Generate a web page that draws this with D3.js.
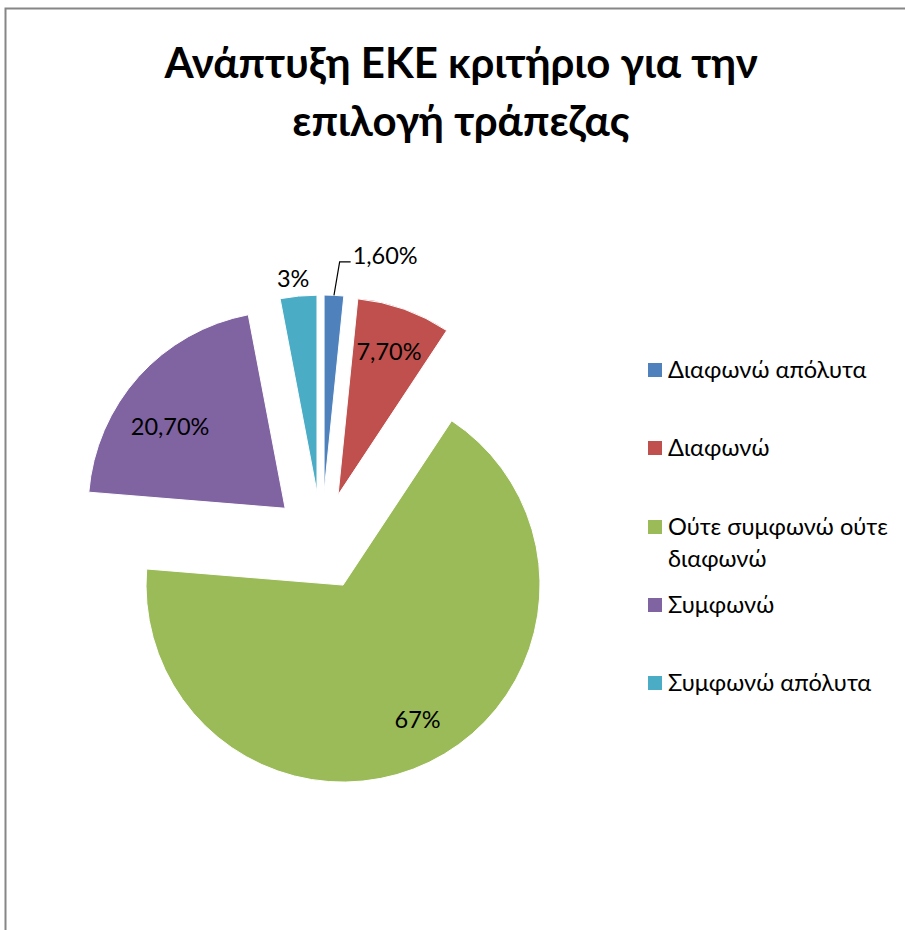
<!DOCTYPE html>
<html>
<head>
<meta charset="utf-8">
<script src="https://cdn.jsdelivr.net/npm/d3@7"></script>
<style>
  html, body { margin: 0; padding: 0; background: #fff; }
  svg { display: block; }
  text { font-family: Lato, "Open Sans", "Noto Sans", sans-serif; }
</style>
</head>
<body>
<svg id="chart" width="905" height="930"></svg>
<script>
// Survey answers and their shares (%)
const categories = ["Διαφωνώ απόλυτα", "Διαφωνώ", "Ούτε συμφωνώ ούτε διαφωνώ", "Συμφωνώ", "Συμφωνώ απόλυτα"];
const values = [1.6, 7.7, 67, 20.7, 3];
const valueLabels = ["1,60%", "7,70%", "67%", "20,70%", "3%"];
const legendLines = [["Διαφωνώ απόλυτα"], ["Διαφωνώ"], ["Ούτε συμφωνώ ούτε", "διαφωνώ"], ["Συμφωνώ"], ["Συμφωνώ απόλυτα"]];
const colors = ["#4F81BD", "#C0504D", "#9BBB59", "#8064A2", "#4BACC6"];
const titleLines = ["Ανάπτυξη ΕΚΕ κριτήριο για την", "επιλογή τράπεζας"];

const svg = d3.select("#chart");

// chart frame
svg.append("rect")
  .attr("x", 5.5).attr("y", 8.5)
  .attr("width", 1000).attr("height", 1000)
  .attr("fill", "#fff").attr("stroke", "#868686").attr("stroke-width", 2);

// title
svg.append("g").selectAll("text").data(titleLines).join("text")
  .attr("x", 461)
  .attr("y", (d, i) => 78 + i * 58)
  .attr("text-anchor", "middle")
  .attr("font-weight", "bold")
  .attr("font-size", 42)
  .attr("fill", "#000")
  .text(d => d);

// pie geometry
const cx = 321.6, cy = 541, radius = 197, explode = 49;
const pie = d3.pie().sort(null).value(d => d.value);
const arcs = pie(categories.map((c, i) => ({ name: c, value: values[i], label: valueLabels[i], color: colors[i] })));
const arc = d3.arc().innerRadius(0).outerRadius(radius);

const mid = d => (d.startAngle + d.endAngle) / 2;
const dir = a => [Math.sin(a), -Math.cos(a)];

const g = svg.append("g").attr("transform", `translate(${cx},${cy})`);

const slices = g.selectAll("g.slice").data(arcs).join("g")
  .attr("class", "slice")
  .attr("transform", d => {
    const [ux, uy] = dir(mid(d));
    return `translate(${ux * explode},${uy * explode})`;
  });

slices.append("path")
  .attr("d", arc)
  .attr("fill", d => d.data.color)
  .attr("stroke", "#fff")
  .attr("stroke-width", 1);

// value label placement: radius (share of slice radius) and position across the slice's angle
const labelRadius = [1.17, 0.77, 0.78, 0.715, 1.09];
const labelAngle = [0.5, 0.5, 0.487, 0.41, 0.41];
slices.each(function(d, i) {
  const sel = d3.select(this);
  const a = d.startAngle + (d.endAngle - d.startAngle) * labelAngle[i];
  const [ux, uy] = dir(a);
  const rr = labelRadius[i] * radius;
  if (i === 0) {
    // leader line for the thin slice
    const p0 = [ux * radius, uy * radius];
    const p1 = [ux * rr + 4, uy * rr];
    const p2 = [p1[0] + 11, p1[1]];
    sel.append("polyline")
      .attr("points", [p0, p1, p2].map(p => p.join(",")).join(" "))
      .attr("fill", "none").attr("stroke", "#000").attr("stroke-width", 1.2);
    sel.append("text")
      .attr("x", p2[0] + 2).attr("y", p2[1])
      .attr("dy", "0.1em")
      .attr("font-size", 23.5)
      .attr("fill", "#000")
      .text(d.data.label);
  } else {
    sel.append("text")
      .attr("x", ux * rr).attr("y", uy * rr)
      .attr("dy", "0.35em")
      .attr("text-anchor", "middle")
      .attr("font-size", 23.5)
      .attr("fill", "#000")
      .text(d.data.label);
  }
});

// legend
const legendY = [370, 448, 527, 605, 683];
const legend = svg.append("g").selectAll("g").data(categories).join("g")
  .attr("transform", (d, i) => `translate(648,${legendY[i]})`);
legend.append("rect")
  .attr("x", 0).attr("y", -7)
  .attr("width", 14).attr("height", 14)
  .attr("fill", (d, i) => colors[i]);
legend.append("text")
  .attr("x", 20).attr("y", 0)
  .attr("font-size", 23.6)
  .attr("fill", "#000")
  .selectAll("tspan").data((d, i) => legendLines[i]).join("tspan")
  .attr("x", 20)
  .attr("dy", (d, j) => j === 0 ? "0.35em" : "1.33em")
  .text(d => d);
</script>
</body>
</html>
